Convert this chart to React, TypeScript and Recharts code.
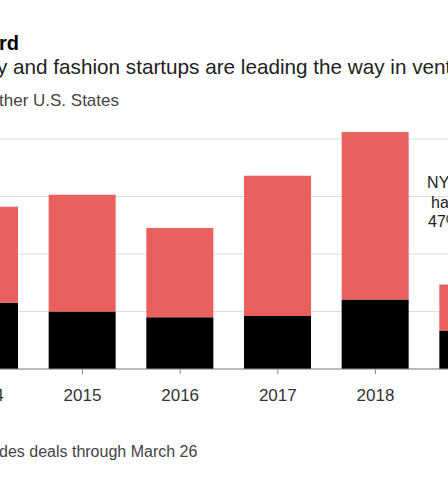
import { BarChart, Bar, XAxis, YAxis, CartesianGrid } from 'recharts';

const years = ['2014', '2015', '2016', '2017', '2018', '2019'];
const nycValues = [1.15, 1.0, 0.9, 0.92, 1.21, 0.67];
const otherValues = [1.67, 2.03, 1.55, 2.44, 2.91, 0.8];
const gridTicks = [0, 1, 2, 3, 4];
const noteLines = ['NYC', 'has', '47%'];

const data = years.map((year, i) => ({ year, nyc: nycValues[i], other: otherValues[i] }));

const FONT = '"Liberation Sans", Arial, sans-serif';

export default function App() {
  return (
    <div style={{ position: 'fixed', left: 0, top: 0, width: 448, height: 482, overflow: 'hidden', background: '#fff', fontFamily: FONT }}>
      <div style={{ position: 'absolute', left: -64, top: 0 }}>
        <BarChart width={586} height={482} data={data} margin={{ top: 124.6, right: 0, left: 0, bottom: 83 }}>
          <CartesianGrid vertical={false} stroke="#dcdcdc" horizontalValues={gridTicks} />
          <YAxis hide domain={[0, 4.25]} ticks={gridTicks} />
          <XAxis
            dataKey="year"
            height={30}
            axisLine={{ stroke: '#888' }}
            tickLine={{ stroke: '#888' }}
            tickSize={5}
            tickMargin={15}
            tick={{ fill: '#333', fontSize: 17, fontFamily: FONT }}
          />
          <Bar dataKey="nyc" stackId="a" fill="#000" barSize={67} isAnimationActive={false} />
          <Bar dataKey="other" stackId="a" fill="#e9605f" barSize={67} isAnimationActive={false} />
        </BarChart>
      </div>
      <svg width={448} height={482} style={{ position: 'absolute', left: 0, top: 0 }} fontFamily={FONT}>
        <text x={-1} y={50} fontSize={20} fontWeight="bold" fill="#000">rd</text>
        <text x={-3} y={74} fontSize={20.7} fill="#222">y and fashion startups are leading the way in venture funding</text>
        <text x={-1} y={106} fontSize={17} fill="#444">ther U.S. States</text>
        {noteLines.map((line, i) => (
          <text key={line} x={444} y={188 + i * 19.5} fontSize={16} fill="#222" textAnchor="middle">{line}</text>
        ))}
        <text x={-1} y={457} fontSize={16} fill="#444">des deals through March 26</text>
      </svg>
    </div>
  );
}
